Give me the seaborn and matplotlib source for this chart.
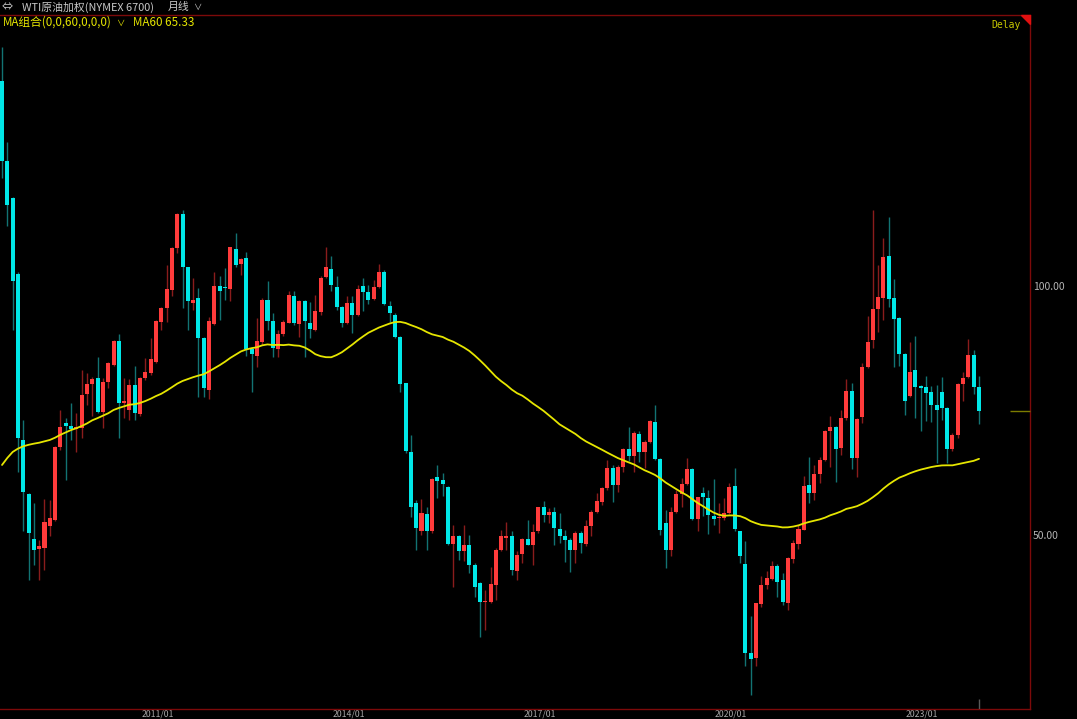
import numpy as np
import pandas as pd
import matplotlib
matplotlib.use("Agg")
import matplotlib.pyplot as plt
import seaborn as sns
from matplotlib.patches import Polygon
from matplotlib.transforms import ScaledTranslation

# WTI weighted, monthly bars 2008/07 .. 2023/11
months = pd.date_range("2008-07-01", periods=185, freq="MS")

opens = [141.2, 125.0, 117.6, 102.3, 69.1, 58.2, 49.2, 47.1, 47.3, 51.8,
         53.0, 67.7, 72.4, 71.9, 71.2, 71.4, 78.3, 80.3, 81.5, 74.6,
         80.8, 84.1, 89.0, 76.4, 75.0, 80.1, 74.2, 81.5, 82.5, 84.7,
         92.7, 95.5, 99.2, 107.6, 114.5, 103.8, 96.5, 97.5, 89.6, 79.2,
         92.3, 100.0, 99.7, 99.4, 107.4, 104.4, 105.6, 87.4, 86.0, 88.8,
         97.2, 93.0, 87.3, 90.3, 92.6, 98.0, 92.4, 97.0, 92.6, 91.2,
         94.7, 101.7, 103.4, 99.7, 95.7, 92.5, 96.5, 94.2, 100.0, 98.7,
         97.3, 99.7, 102.9, 95.9, 94.2, 89.8, 80.5, 66.6, 56.4, 50.7,
         54.2, 50.7, 61.6, 61.1, 59.7, 48.1, 49.7, 46.7, 47.9, 44.0,
         40.3, 36.5, 36.6, 40.0, 47.0, 49.4, 49.7, 42.8, 46.2, 49.1,
         48.0, 50.7, 55.7, 54.0, 54.6, 51.3, 49.8, 49.0, 46.9, 50.3,
         48.2, 51.8, 54.6, 56.7, 59.5, 63.4, 60.0, 63.6, 67.2, 65.9,
         70.2, 66.7, 68.6, 72.6, 65.2, 52.5, 46.9, 54.6, 58.2, 60.2,
         63.2, 53.2, 58.5, 57.5, 53.8, 53.4, 53.5, 54.5, 59.8, 50.7,
         44.1, 26.4, 25.4, 36.2, 39.9, 41.1, 43.8, 41.0, 36.3, 45.1,
         48.2, 51.0, 60.0, 58.5, 62.2, 65.1, 70.9, 71.6, 67.4, 73.4,
         79.0, 65.4, 73.6, 83.7, 89.2, 95.4, 97.5, 106.0, 97.5, 93.5,
         86.4, 77.9, 83.1, 79.9, 79.7, 78.7, 76.0, 78.8, 75.4, 67.2,
         70.1, 80.3, 81.7, 86.2, 79.8]

highs = [148.0, 129.0, 117.9, 102.8, 73.1, 58.5, 56.4, 49.0, 57.2, 57.0,
         67.8, 75.1, 73.4, 76.4, 74.4, 83.1, 82.5, 81.8, 85.8, 81.5,
         84.7, 89.1, 90.4, 81.5, 81.3, 84.0, 81.8, 85.5, 89.5, 93.2,
         95.8, 104.2, 107.9, 114.6, 115.3, 103.9, 101.5, 99.5, 89.8, 93.8,
         102.9, 101.9, 103.6, 107.9, 110.7, 105.6, 106.9, 87.8, 93.5, 97.5,
         100.9, 94.5, 91.2, 93.2, 98.9, 98.9, 97.2, 97.2, 96.7, 98.2,
         101.9, 107.8, 106.0, 101.9, 95.9, 97.9, 97.9, 100.2, 101.5, 100.2,
         101.2, 104.4, 103.3, 96.9, 94.5, 90.0, 80.6, 70.1, 57.0, 57.2,
         55.7, 61.4, 64.1, 62.5, 59.8, 52.0, 50.0, 52.0, 49.9, 44.3,
         40.6, 39.0, 43.6, 47.3, 51.0, 52.7, 50.7, 46.7, 49.3, 53.0,
         52.2, 55.7, 56.9, 55.4, 55.7, 54.5, 51.0, 49.3, 50.7, 50.7,
         53.0, 55.0, 58.4, 59.7, 65.1, 64.1, 64.1, 67.4, 71.6, 70.8,
         70.8, 69.1, 73.1, 76.1, 65.4, 55.0, 55.7, 59.0, 61.4, 65.4,
         63.4, 57.7, 59.7, 59.0, 61.2, 56.4, 57.4, 60.4, 63.4, 50.7,
         48.7, 33.7, 36.4, 41.8, 42.8, 44.7, 44.2, 42.3, 45.5, 49.0,
         52.0, 61.8, 65.6, 64.1, 65.6, 71.1, 73.8, 71.8, 75.1, 81.3,
         80.5, 73.4, 84.6, 94.0, 115.3, 104.2, 109.6, 113.8, 101.4, 93.7,
         86.5, 88.8, 90.0, 80.1, 81.9, 79.9, 80.1, 81.7, 75.6, 70.4,
         80.6, 82.8, 89.3, 87.2, 81.9]

lows = [121.7, 112.1, 91.2, 62.7, 50.7, 41.0, 44.0, 41.0, 43.0, 49.7,
        52.8, 67.1, 61.0, 69.1, 66.7, 69.4, 76.1, 73.8, 74.5, 71.4,
        79.5, 84.0, 69.4, 73.4, 73.1, 73.1, 73.8, 81.1, 82.1, 84.5,
        91.2, 92.8, 97.9, 106.6, 95.5, 91.2, 95.2, 77.8, 77.8, 77.4,
        92.2, 93.2, 97.2, 96.9, 103.9, 102.2, 86.0, 78.8, 83.8, 88.2,
        91.2, 85.8, 85.8, 90.0, 92.5, 92.2, 89.8, 85.8, 89.5, 91.0,
        94.2, 101.5, 98.9, 95.2, 91.7, 92.4, 90.5, 94.0, 94.9, 96.4,
        97.2, 99.5, 96.2, 92.8, 89.5, 78.8, 66.4, 53.7, 47.0, 50.0,
        47.0, 50.3, 57.4, 57.9, 48.0, 39.5, 44.9, 44.7, 42.3, 37.6,
        29.6, 30.9, 36.4, 37.0, 46.7, 47.0, 42.0, 41.0, 44.3, 47.9,
        43.9, 50.3, 52.7, 52.5, 47.9, 48.3, 44.6, 42.6, 44.3, 46.3,
        47.7, 49.7, 54.4, 56.0, 59.0, 56.7, 58.7, 62.7, 64.9, 62.7,
        64.7, 63.4, 68.4, 65.1, 50.0, 43.3, 45.7, 54.4, 55.7, 60.0,
        53.0, 50.7, 53.8, 50.2, 52.0, 50.3, 53.0, 54.2, 50.7, 44.3,
        23.6, 17.9, 23.6, 35.5, 39.1, 41.0, 37.6, 35.9, 34.9, 44.3,
        47.1, 50.9, 56.4, 57.0, 60.4, 64.9, 63.7, 60.7, 66.1, 73.1,
        63.2, 61.7, 72.4, 83.5, 87.5, 90.8, 93.2, 95.7, 83.8, 84.0,
        74.1, 77.8, 73.4, 70.8, 72.8, 72.6, 64.4, 73.1, 64.4, 66.9,
        69.4, 76.8, 81.5, 78.4, 72.3]

closes = [125.0, 116.3, 100.9, 69.4, 58.6, 50.3, 47.0, 47.8, 52.7, 53.4,
          67.7, 71.7, 71.9, 71.2, 71.7, 78.1, 80.3, 81.3, 74.6, 80.8,
          84.6, 89.0, 76.4, 76.9, 80.1, 74.4, 81.6, 82.7, 85.3, 93.0,
          95.5, 99.4, 107.6, 114.5, 103.8, 96.9, 97.1, 89.6, 79.6, 93.0,
          99.9, 98.9, 99.5, 107.8, 104.2, 105.4, 87.4, 86.3, 89.0, 97.2,
          93.0, 87.5, 90.4, 92.8, 98.1, 92.5, 96.9, 93.0, 91.4, 94.9,
          101.5, 103.9, 100.1, 95.7, 92.5, 96.5, 94.2, 99.3, 98.7, 97.2,
          99.7, 102.9, 96.4, 94.5, 89.7, 80.3, 66.9, 55.6, 51.4, 54.4,
          50.8, 61.3, 60.9, 60.3, 48.1, 49.7, 46.7, 47.9, 44.0, 39.5,
          36.6, 36.8, 40.1, 47.0, 49.7, 49.7, 43.0, 46.0, 49.1, 48.0,
          50.5, 55.6, 54.0, 54.7, 51.5, 49.7, 48.9, 46.9, 50.3, 48.3,
          51.8, 54.7, 56.8, 59.5, 63.4, 60.0, 63.6, 67.2, 65.9, 70.4,
          66.7, 68.6, 72.8, 65.2, 51.0, 46.9, 54.6, 58.2, 60.2, 63.2,
          53.2, 57.6, 57.6, 54.0, 53.2, 53.7, 54.5, 59.6, 51.3, 45.7,
          26.4, 25.1, 36.4, 39.9, 41.3, 43.8, 40.6, 36.6, 45.3, 48.3,
          51.2, 59.8, 58.4, 62.2, 65.1, 70.9, 71.6, 67.2, 73.4, 79.0,
          65.4, 73.3, 83.7, 88.8, 95.4, 97.7, 105.9, 97.4, 93.4, 86.4,
          76.8, 82.8, 79.8, 79.6, 78.6, 76.0, 75.0, 75.4, 67.2, 70.1,
          80.3, 81.5, 86.2, 79.7, 74.8]

# closes 2003/08 .. 2008/06, only used to warm up the 60-month average
prev_closes = [31.6, 29.2, 29.1, 30.4, 32.5,
               33.1, 36.2, 35.8, 37.4, 39.9, 37.1, 43.8, 42.1, 49.6, 51.8, 49.1, 43.5,
               48.2, 51.8, 55.4, 49.7, 52.0, 56.5, 60.6, 68.9, 66.2, 59.8, 57.3, 61.0,
               67.9, 61.4, 66.6, 71.9, 71.3, 73.9, 74.4, 70.3, 62.9, 58.7, 63.1, 61.1,
               58.1, 61.8, 65.9, 65.7, 64.0, 70.7, 78.2, 74.0, 81.7, 94.5, 88.7, 96.0,
               91.8, 101.8, 101.6, 113.5, 127.4, 140.0]

tick_labels = ["2011/01", "2014/01", "2017/01", "2020/01", "2023/01"]
price_ticks = [50, 100]

UP = "#ff3b3b"
DOWN = "#00e8e8"
UP_WICK = "#8a1c1c"
DOWN_WICK = "#127373"
FRAME = "#7d0a0a"

df = pd.DataFrame({"month": months, "open": opens, "high": highs,
                   "low": lows, "close": closes})
df["i"] = np.arange(len(df))
df["up"] = df["close"] >= df["open"]
full = pd.Series(prev_closes + closes)
df["ma60"] = full.rolling(60).mean().iloc[len(prev_closes):].to_numpy()

sns.set_theme(style="dark", rc={"axes.facecolor": "black",
                                "figure.facecolor": "black",
                                "axes.grid": False})
plt.rcParams["font.family"] = ["Noto Sans CJK SC", "DejaVu Sans"]

W, H = 1077, 719
fig = plt.figure(figsize=(W / 100, H / 100), dpi=100)
ax = fig.add_axes([0, 10 / H, 1030 / W, 694 / H])

# candles
body_lo = df[["open", "close"]].min(axis=1)
body_h = (df["close"] - df["open"]).abs().clip(lower=0.3)
ax.vlines(df["i"], df["low"], df["high"],
          colors=np.where(df["up"], UP_WICK, DOWN_WICK), lw=1, zorder=1)
ax.bar(df["i"], body_h, bottom=body_lo, width=0.76,
       color=np.where(df["up"], UP, DOWN), linewidth=0, zorder=2)

sns.lineplot(data=df, x="i", y="ma60", ax=ax, color="#e6e600", lw=1.3,
             zorder=3, legend=False)

ax.set_xlim(-0.38, 193.6)
ax.set_ylim(15.06, 154.4)
ax.set_xlabel("")
ax.set_ylabel("")

# axes ticks
tick_pos = [df.index[df["month"] == pd.Timestamp(t.replace("/", "-") + "-01")][0]
            for t in tick_labels]
ax.set_xticks(tick_pos)
ax.set_xticklabels(tick_labels)
ax.tick_params(axis="x", length=0, pad=0.5, labelsize=6.3, labelcolor="#a8a8a8")
for lab in ax.get_xticklabels():
    lab.set_transform(lab.get_transform() + ScaledTranslation(-0.04, 0, fig.dpi_scale_trans))
ax.yaxis.tick_right()
ax.set_yticks(price_ticks)
ax.set_yticklabels([f"{v:.2f}" for v in price_ticks])
ax.tick_params(axis="y", length=0, pad=2, labelsize=7.5, labelcolor="#b4b4b4")

for side in ["top", "right", "bottom"]:
    ax.spines[side].set_color(FRAME)
    ax.spines[side].set_linewidth(1)
ax.spines["left"].set_visible(False)

# last price marker and time cursor
ax.hlines(closes[-1], 189.8, 193.6, color="#7c7c00", lw=1, zorder=4, clip_on=False)
ax.vlines(df["i"].iloc[-1], 15.06, 17.0, color="#5a5a5a", lw=1, zorder=4)


def fx(x, y):
    return x / W, 1 - y / H


fig.text(*fx(2, 7), "⇔", color="#c8c8c8", fontsize=8, va="center")
fig.text(*fx(22, 7), "WTI原油加权(NYMEX 6700)", color="#c8c8c8", fontsize=7.8, va="center")
fig.text(*fx(168, 7), "月线", color="#c8c8c8", fontsize=7.8, va="center")
fig.text(*fx(193, 7), "∨", color="#c8c8c8", fontsize=6, va="center")

fig.text(*fx(3, 22), "MA组合(0,0,60,0,0,0)", color="#e6e600", fontsize=8.4, va="center")
fig.text(*fx(116, 23), "∨", color="#e6e600", fontsize=6, va="center")
fig.text(*fx(133, 22), "MA60 65.33", color="#e6e600", fontsize=8.4, va="center")

fig.text(*fx(991, 25), "Delay", color="#c8c800", fontsize=7,
         family="DejaVu Sans Mono", va="center")
tri = Polygon([fx(1021, 15), fx(1030, 15), fx(1030, 24)], closed=True,
              color="#e01010", transform=fig.transFigure)
fig.add_artist(tri)

fig.savefig("out.png", dpi=100, facecolor="black")
